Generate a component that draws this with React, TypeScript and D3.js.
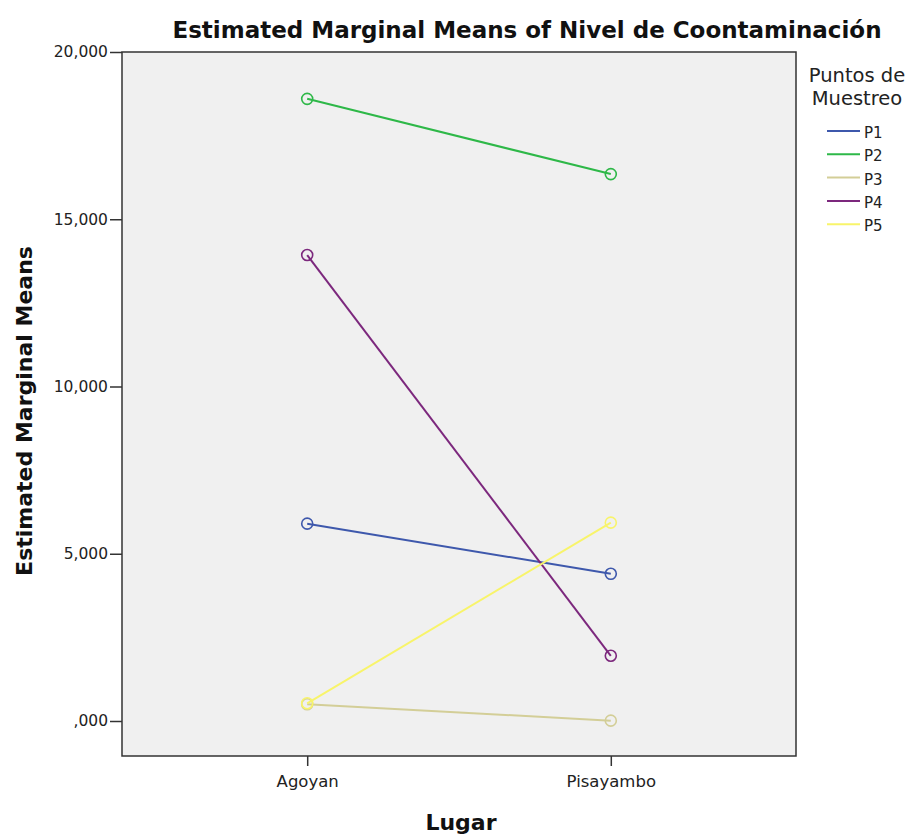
import React, { useEffect, useRef } from 'react'
import * as d3 from 'd3'

const lugares = ['Agoyan', 'Pisayambo']
const puntos = ['P1', 'P2', 'P3', 'P4', 'P5']
const p1 = [5900, 4400]
const p2 = [18600, 16350]
const p3 = [500, 10]
const p4 = [13930, 1950]
const p5 = [530, 5930]
const colores = ['#3e58ac', '#2eb848', '#d3ce97', '#7c287d', '#f8f46a']
const yTicks = [0, 5000, 10000, 15000, 20000]
const yTickLabels = [',000', '5,000', '10,000', '15,000', '20,000']

const FONT = 'DejaVu Sans, Verdana, sans-serif'

export default function App() {
  const ref = useRef<SVGSVGElement>(null)

  useEffect(() => {
    const W = 911, H = 838
    const margin = { top: 52, left: 122, right: 115, bottom: 82 }
    const w = W - margin.left - margin.right
    const h = H - margin.top - margin.bottom
    const series = [p1, p2, p3, p4, p5]

    const svg = d3.select(ref.current)
    svg.selectAll('*').remove()
    svg.attr('width', W).attr('height', H).style('font-family', FONT)

    const x = d3.scalePoint().domain(lugares).range([0, w]).padding(0.61)
    const y = d3.scaleLinear().domain([0, 20000]).range([669, 0])

    const g = svg.append('g').attr('transform', `translate(${margin.left},${margin.top})`)

    g.append('rect').attr('width', w).attr('height', h)
      .attr('fill', '#f0f0f0').attr('stroke', '#333').attr('stroke-width', 1.5)

    const yAxis = d3.axisLeft(y).tickValues(yTicks)
      .tickFormat((d, i) => yTickLabels[i]).tickSize(12).tickSizeOuter(0)
    const gY = g.append('g').call(yAxis)
    gY.select('.domain').remove()
    gY.selectAll('line').attr('stroke', '#333').attr('stroke-width', 1.5)
    gY.selectAll('text').attr('font-size', 15.5).attr('fill', '#222').attr('x', -14)
      .attr('font-family', FONT)

    const xAxis = d3.axisBottom(x).tickSize(10).tickSizeOuter(0)
    const gX = g.append('g').attr('transform', `translate(0,${h})`).call(xAxis)
    gX.select('.domain').remove()
    gX.selectAll('line').attr('stroke', '#333').attr('stroke-width', 1.5)
    gX.selectAll('text').attr('font-size', 16.5).attr('fill', '#222').attr('y', 19)
      .attr('font-family', FONT)

    const line = d3.line<number>().x((d, i) => x(lugares[i])!).y(d => y(d))

    series.forEach((s, k) => {
      g.append('path').datum(s).attr('d', line).attr('fill', 'none')
        .attr('stroke', colores[k]).attr('stroke-width', 2)
      g.selectAll(`.pt${k}`).data(s).enter().append('circle')
        .attr('cx', (d, i) => x(lugares[i])!).attr('cy', d => y(d)).attr('r', 5.5)
        .attr('fill', 'none').attr('stroke', colores[k]).attr('stroke-width', 1.6)
    })

    svg.append('text').attr('x', 527).attr('y', 38).attr('text-anchor', 'middle')
      .attr('font-size', 23).attr('font-weight', 'bold').attr('fill', '#111')
      .text('Estimated Marginal Means of Nivel de Coontaminación')

    svg.append('text').attr('transform', 'translate(32,411) rotate(-90)').attr('text-anchor', 'middle')
      .attr('font-size', 22).attr('font-weight', 'bold').attr('fill', '#111')
      .text('Estimated Marginal Means')

    svg.append('text').attr('x', 461).attr('y', 830).attr('text-anchor', 'middle')
      .attr('font-size', 22).attr('font-weight', 'bold').attr('fill', '#111')
      .text('Lugar')

    const leg = svg.append('g')
    leg.append('text').attr('x', 857).attr('y', 82).attr('text-anchor', 'middle')
      .attr('font-size', 19.5).attr('fill', '#222').text('Puntos de')
    leg.append('text').attr('x', 857).attr('y', 105).attr('text-anchor', 'middle')
      .attr('font-size', 19.5).attr('fill', '#222').text('Muestreo')
    puntos.forEach((p, k) => {
      const yy = 131 + k * 23.3
      leg.append('line').attr('x1', 827).attr('x2', 860).attr('y1', yy).attr('y2', yy)
        .attr('stroke', colores[k]).attr('stroke-width', 2)
      leg.append('text').attr('x', 864).attr('y', yy + 7).attr('font-size', 15)
        .attr('fill', '#222').text(p)
    })
  }, [])

  return <svg ref={ref} style={{ position: 'absolute', left: 0, top: 0 }}></svg>
}
